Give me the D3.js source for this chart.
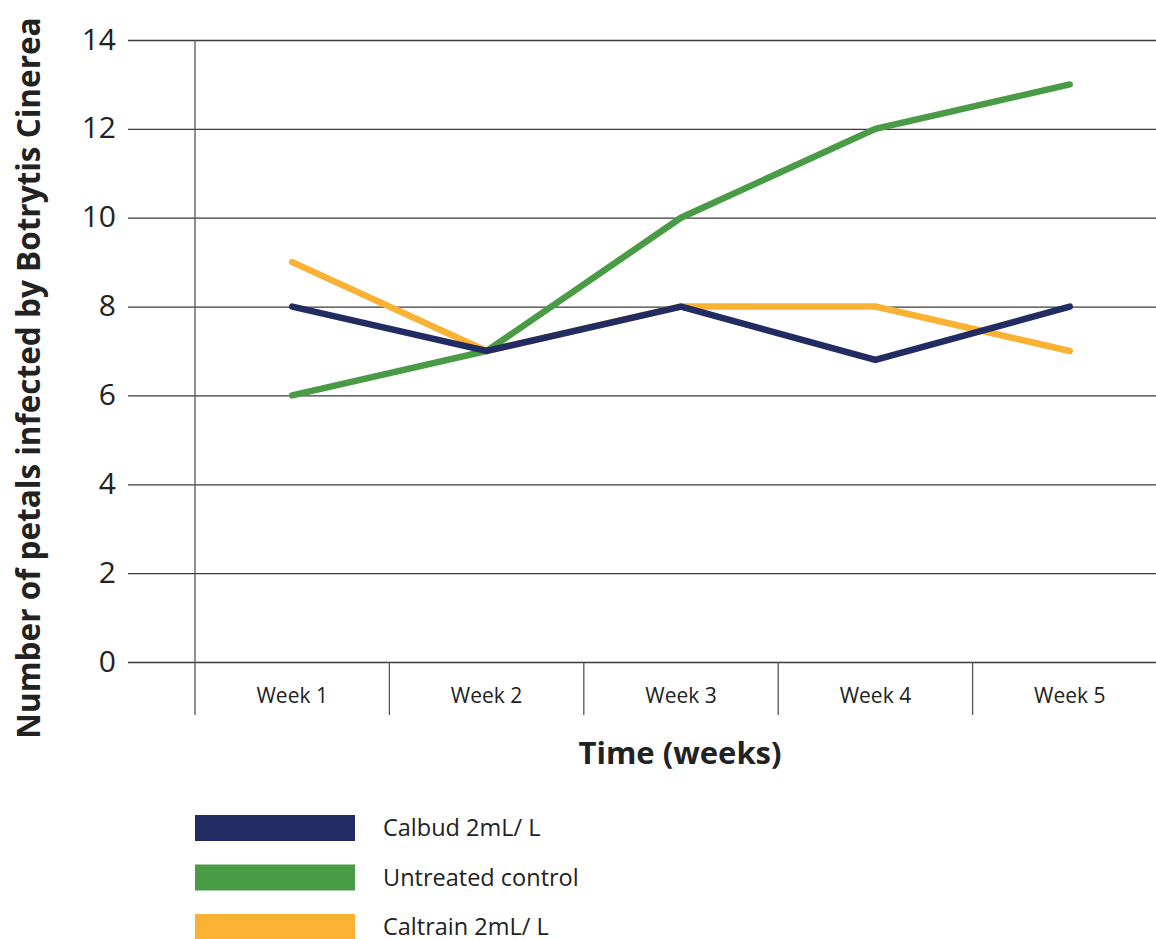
<!DOCTYPE html>
<html>
<head>
<meta charset="utf-8">
<script src="https://cdn.jsdelivr.net/npm/d3@7"></script>
<style>
  html, body { margin: 0; padding: 0; background: #fff; }
  svg { display: block; font-family: "Open Sans", "Noto Sans", sans-serif; }
</style>
</head>
<body>
<svg id="chart" width="1156" height="939"></svg>
<script>
// Weekly counts of infected petals per treatment
const weeks = ["Week 1", "Week 2", "Week 3", "Week 4", "Week 5"];
const calbud = [8, 7, 8, 6.8, 8];
const untreated = [6, 7, 10, 12, 13];
const caltrain = [9, 7, 8, 8, 7];
const yTicks = [0, 2, 4, 6, 8, 10, 12, 14];

const seriesNames = ["Calbud 2mL/ L", "Untreated control", "Caltrain 2mL/ L"];
const seriesColors = ["#222b62", "#4a9b46", "#f9b233"];
const seriesValues = [calbud, untreated, caltrain];

const svg = d3.select("#chart");

const plot = { left: 195, right: 1167, top: 40, bottom: 662 };

const x = d3.scaleBand().domain(weeks).range([plot.left, plot.right]).padding(0);
const y = d3.scaleLinear().domain([0, 14]).range([plot.bottom, plot.top]);

// Horizontal gridlines with tick labels
const yAxis = d3.axisLeft(y).tickValues(yTicks).tickSize(0).tickPadding(0);
const gy = svg.append("g").attr("transform", `translate(${plot.left},0)`).call(yAxis);
gy.select(".domain").remove();
gy.selectAll(".tick line")
  .attr("x1", 128 - plot.left)
  .attr("x2", 1156 - plot.left)
  .attr("stroke", "#3a3a3a")
  .attr("stroke-width", 1.3);
gy.selectAll(".tick text")
  .attr("x", 116 - plot.left)
  .attr("dy", "0.3em")
  .attr("font-size", 30)
  .attr("fill", "#222")
  .attr("text-anchor", "end")
  .attr("font-family", "'Open Sans', 'Noto Sans', sans-serif");

// Vertical axis line
svg.append("line")
  .attr("x1", plot.left).attr("x2", plot.left)
  .attr("y1", plot.top).attr("y2", 715)
  .attr("stroke", "#555").attr("stroke-width", 1.3);

// Category dividers below the zero line
svg.append("g").selectAll("line")
  .data(weeks.slice(1))
  .join("line")
  .attr("x1", d => x(d)).attr("x2", d => x(d))
  .attr("y1", plot.bottom).attr("y2", 715)
  .attr("stroke", "#555").attr("stroke-width", 1.3);

// Week labels
const xAxis = d3.axisBottom(x).tickSize(0).tickPadding(0);
const gx = svg.append("g").attr("transform", `translate(0,${plot.bottom})`).call(xAxis);
gx.select(".domain").remove();
gx.selectAll(".tick text")
  .attr("y", 41)
  .attr("dy", 0)
  .attr("font-size", 21)
  .attr("fill", "#222")
  .attr("font-family", "'Open Sans', 'Noto Sans', sans-serif");

// Axis titles
svg.append("text")
  .attr("x", 680).attr("y", 764)
  .attr("text-anchor", "middle")
  .attr("font-size", 31).attr("font-weight", "bold")
  .attr("fill", "#222")
  .text("Time (weeks)");

svg.append("text")
  .attr("transform", "translate(40,378) rotate(-90)")
  .attr("text-anchor", "middle")
  .attr("font-size", 31.5).attr("font-weight", "bold")
  .attr("fill", "#222")
  .text("Number of petals infected by Botrytis Cinerea");

// Series lines (Caltrain underneath, Calbud on top)
const line = d3.line()
  .x((d, i) => x(weeks[i]) + x.bandwidth() / 2)
  .y(d => y(d));

const drawOrder = [2, 1, 0];
svg.append("g").selectAll("path")
  .data(drawOrder)
  .join("path")
  .attr("d", i => line(seriesValues[i]))
  .attr("fill", "none")
  .attr("stroke", i => seriesColors[i])
  .attr("stroke-width", 6.5)
  .attr("stroke-linecap", "round")
  .attr("stroke-linejoin", "miter");

// Legend
const legend = svg.append("g");
const legendRows = legend.selectAll("g")
  .data(seriesNames)
  .join("g")
  .attr("transform", (d, i) => `translate(195,${815 + i * 49.5})`);
legendRows.append("rect")
  .attr("width", 160).attr("height", 26)
  .attr("fill", (d, i) => seriesColors[i]);
legendRows.append("text")
  .attr("x", 188).attr("y", 21)
  .attr("font-size", 23.5)
  .attr("fill", "#222")
  .text(d => d);
</script>
</body>
</html>
